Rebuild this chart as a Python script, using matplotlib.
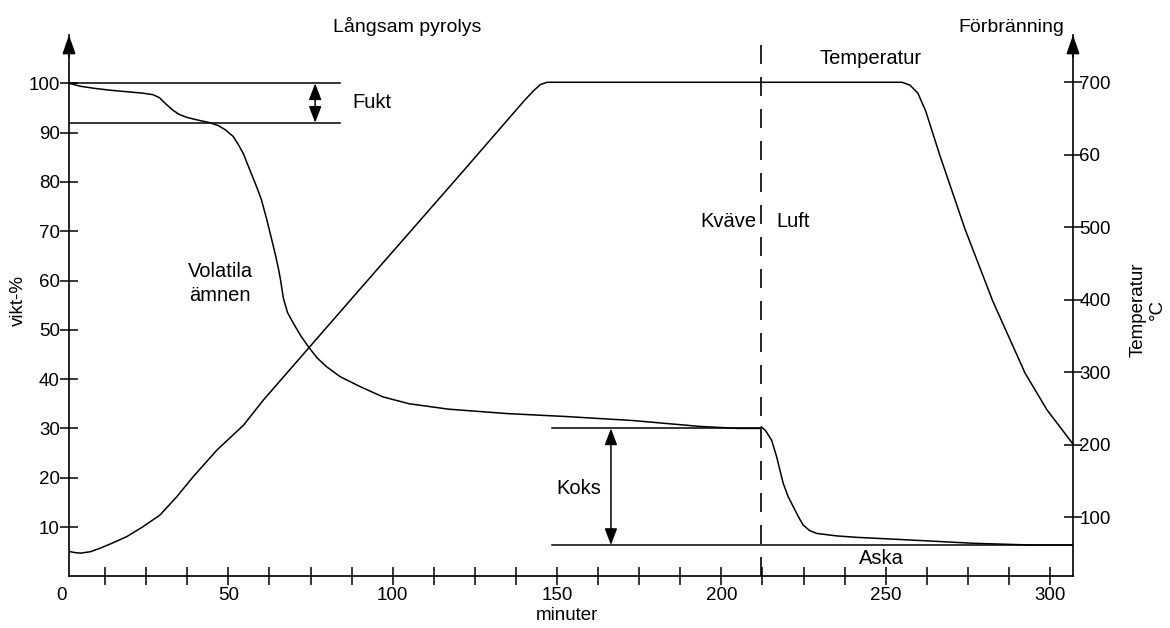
import matplotlib
matplotlib.use("Agg")
import matplotlib.pyplot as plt

plt.rcParams['font.family'] = ['Liberation Sans', 'DejaVu Sans']
FS = 13.5      # tick labels and axis labels
FS_IN = 14.5   # annotations inside the plot
FS_TOP = 14    # section headings

# Mass loss curve (minutes, weight-%)
mass_t = [1.5, 5, 9, 14, 19, 24, 27, 29, 31, 33, 35, 37.3, 41, 44.4, 47, 49,
          51.5, 53, 54.5, 56.6, 58.6, 60, 61.7, 63, 64.2, 65.2, 65.9, 66.7, 68,
          69.8, 72, 74.3, 77, 79.9, 84, 90, 97, 105, 117, 135, 153, 173, 193.5,
          205, 211.7, 212.2, 213.5, 215.3, 216.8, 218.8, 220.3, 221.9, 223.5,
          224.9, 226.8, 229, 235, 241.2, 256.4, 276.6, 293.9, 307]
mass_w = [100, 99.4, 99.0, 98.6, 98.3, 98.0, 97.7, 97.1, 95.8, 94.6, 93.7, 93.1,
          92.5, 92.0, 91.4, 90.6, 89.2, 87.6, 85.8, 82.3, 79.0, 76.5, 72.3, 68.8,
          65.5, 62.5, 60.0, 56.5, 53.5, 51.3, 48.8, 46.6, 44.3, 42.5, 40.5, 38.5,
          36.4, 35.0, 33.9, 33.0, 32.4, 31.6, 30.4, 30.0, 30.0, 30.3, 29.5, 27.6,
          24.3, 18.9, 16.2, 14.1, 12.0, 10.4, 9.3, 8.7, 8.2, 7.9, 7.4, 6.7, 6.35,
          6.35]

# Temperature programme (minutes, °C)
temp_t = [1.5, 3, 5, 8, 11, 15, 19.1, 24, 29.2, 34.3, 39.3, 46.5, 54.6, 60.6,
          90.1, 120, 140, 143, 145, 147, 255, 257.4, 259.8, 262.2, 266.5, 274.1,
          282.6, 292.4, 299.1, 307]
temp_c = [53, 51.5, 50.5, 52.5, 57.4, 65, 73.4, 87, 103.2, 128.4, 156, 192.7,
          227, 261.5, 415, 570, 674.5, 689, 697, 700, 700, 696, 685, 660, 599,
          498, 398, 299, 248, 201]

x_major = [50, 100, 150, 200, 250, 300]
x_minor = [12.5, 25, 37.5, 62.5, 75, 87.5, 112.5, 125, 137.5, 162.5, 175,
           187.5, 212.5, 225, 237.5, 262.5, 275, 287.5]
w_ticks = [10, 20, 30, 40, 50, 60, 70, 80, 90, 100]
t_ticks = [100, 200, 300, 400, 500, 600, 700]
t_labels = ['100', '200', '300', '400', '500', '60', '700']

# Reference levels
fukt_top, fukt_bottom = 100, 92
koks_level, aska_level = 30, 6.35
switch_t = 212.2

fig = plt.figure(figsize=(11.7, 6.28), dpi=100)
ax = fig.add_axes([69 / 1170, 51.7 / 628, 1004 / 1170, 541.3 / 628])
ax2 = ax.twinx()

ax.set_xlim(1.5, 307)
ax.set_ylim(0, 109.8)
ax2.set_ylim(18.6, 765.2)

lw = 1.1
ax.plot(mass_t, mass_w, color='black', lw=lw)
ax2.plot(temp_t, temp_c, color='black', lw=lw)

# Horizontal guide lines
ax.plot([1.5, 84], [fukt_top, fukt_top], color='black', lw=lw)
ax.plot([1.5, 84], [fukt_bottom, fukt_bottom], color='black', lw=lw)
ax.plot([148.4, switch_t], [koks_level, koks_level], color='black', lw=lw)
ax.plot([148.4, 307], [aska_level, aska_level], color='black', lw=lw)

# Gas switch
vl, = ax.plot([switch_t, switch_t], [0, 109.6], color='black', lw=1.2)
vl.set_dashes([11.4, 7.8])

# Double arrows
arrow_style = '<|-|>,head_length=1.0,head_width=0.38'
ax.annotate('', xy=(76.4, fukt_bottom), xytext=(76.4, fukt_top),
            arrowprops=dict(arrowstyle=arrow_style, color='black', lw=lw,
                            shrinkA=0, shrinkB=0, mutation_scale=10))
ax.annotate('', xy=(166.4, aska_level), xytext=(166.4, koks_level),
            arrowprops=dict(arrowstyle=arrow_style, color='black', lw=lw,
                            shrinkA=0, shrinkB=0, mutation_scale=10))

# Labels in the plot
ax.text(87.6, 96.2, 'Fukt', fontsize=FS_IN, ha='left', va='center')
ax.text(47.5, 59.4, 'Volatila\nämnen', fontsize=FS_IN, ha='center',
        va='center', linespacing=1.3)
ax.text(156.7, 17.9, 'Koks', fontsize=FS_IN, ha='center', va='center')
ax.text(248.6, 3.7, 'Aska', fontsize=FS_IN, ha='center', va='center')
ax.text(245.5, 105.1, 'Temperatur', fontsize=FS_IN, ha='center', va='center')
ax.text(210.8, 72.0, 'Kväve', fontsize=FS_IN, ha='right', va='center')
ax.text(216.8, 72.0, 'Luft', fontsize=FS_IN, ha='left', va='center')

fig.text(407 / 1170, 1 - 27 / 628, 'Långsam pyrolys', fontsize=FS_TOP,
         ha='center', va='center')
fig.text(1011 / 1170, 1 - 27 / 628, 'Förbränning', fontsize=FS_TOP,
         ha='center', va='center')
fig.text(18 / 1170, 1 - 300 / 628, 'vikt-%', fontsize=FS, rotation=90,
         ha='center', va='center')
fig.text(1148 / 1170, 1 - 310 / 628, 'Temperatur\n°C', fontsize=FS,
         rotation=90, ha='center', va='center', linespacing=1.2)
fig.text(567 / 1170, 1 - 615 / 628, 'minuter', fontsize=FS,
         ha='center', va='center')

# Axes styling
for a in (ax, ax2):
    a.spines['top'].set_visible(False)
ax.spines['right'].set_visible(False)
ax2.spines['left'].set_visible(False)
ax2.spines['bottom'].set_visible(False)
for s in ('left', 'bottom'):
    ax.spines[s].set_linewidth(1.2)
ax2.spines['right'].set_linewidth(1.2)

ax.set_xticks(x_major)
ax.set_xticklabels([str(v) for v in x_major], fontsize=FS)
ax.set_xticks(x_minor, minor=True)
ax.set_yticks(w_ticks)
ax.set_yticklabels([str(v) for v in w_ticks], fontsize=FS)
ax.tick_params(axis='x', which='both', direction='inout', length=13,
               width=1.1, pad=1)
ax.tick_params(axis='y', direction='inout', length=13, width=1.1, pad=0)
ax2.set_yticks(t_ticks)
ax2.set_yticklabels(t_labels, fontsize=FS)
ax2.tick_params(axis='y', direction='inout', length=13, width=1.1, pad=-2)

ax.text(-0.8, -0.0195, '0', transform=ax.get_xaxis_transform(), fontsize=FS,
        ha='center', va='top')

# Arrow heads on the vertical axes
for xa in (0, 1):
    ax.annotate('', xy=(xa, 1.0), xycoords='axes fraction',
                xytext=(xa, 0.96), textcoords='axes fraction',
                arrowprops=dict(arrowstyle='-|>,head_length=1.15,head_width=0.4',
                                color='black', lw=1.2, shrinkA=0, shrinkB=0,
                                mutation_scale=10),
                annotation_clip=False)

fig.savefig('out.png', dpi=100)
